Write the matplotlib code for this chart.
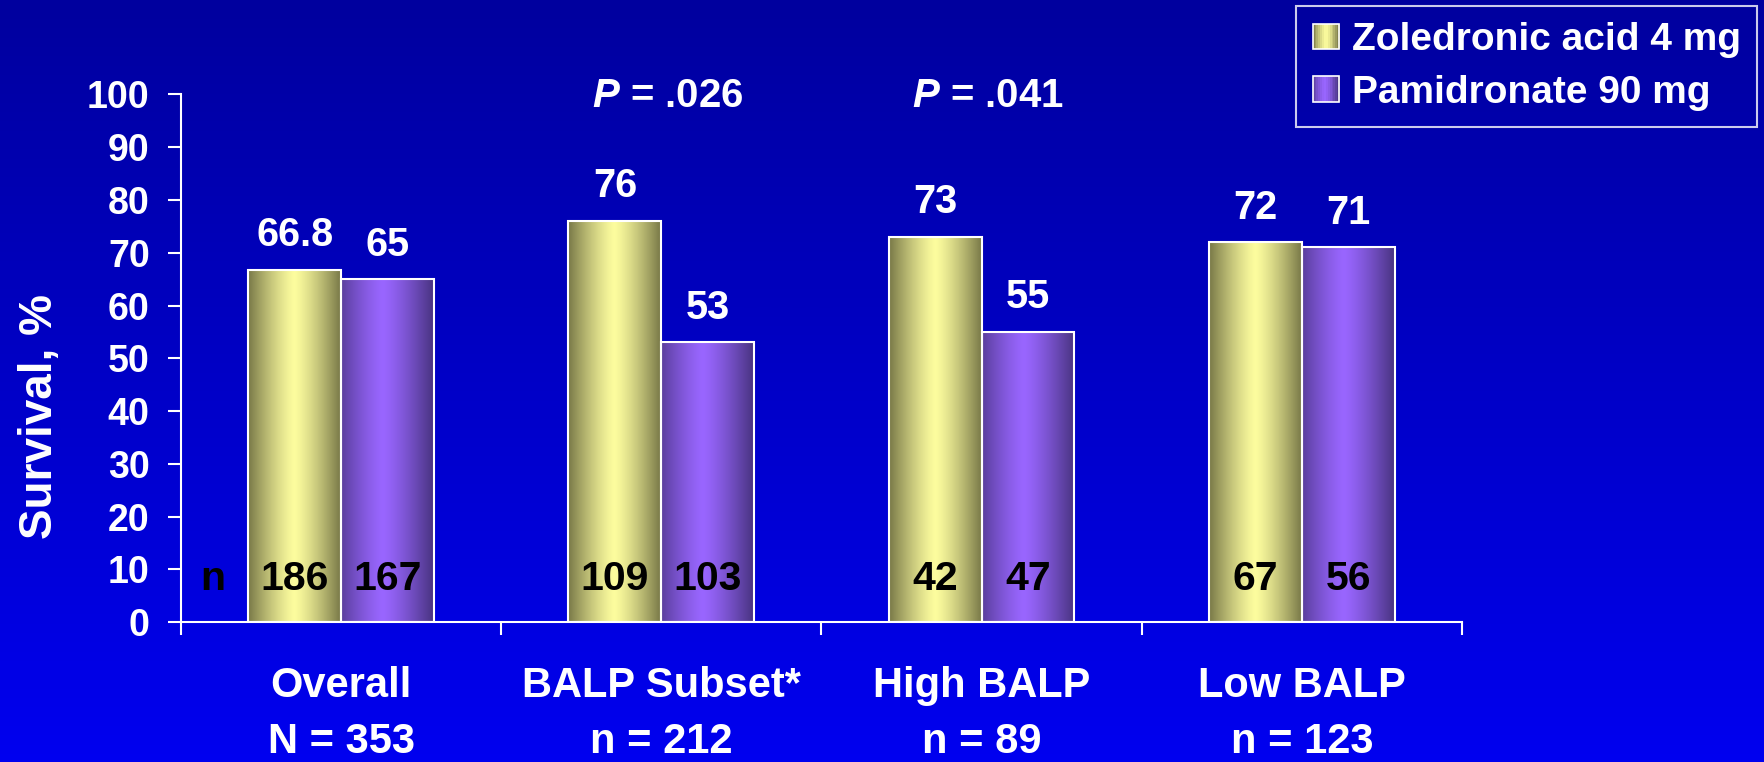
import numpy as np
import matplotlib
matplotlib.use("Agg")
import matplotlib.pyplot as plt
from matplotlib.patches import Rectangle, Patch
from matplotlib.legend_handler import HandlerBase
from matplotlib.ticker import FixedLocator

plt.rcParams['font.family'] = ['Liberation Sans', 'DejaVu Sans']
plt.rcParams['font.weight'] = 'bold'
plt.rcParams['mathtext.fontset'] = 'custom'
plt.rcParams['mathtext.it'] = 'Liberation Sans:italic:bold'
plt.rcParams['mathtext.rm'] = 'Liberation Sans:bold'

# --- data ---
groups = ["Overall", "BALP Subset*", "High BALP", "Low BALP"]
group_n = ["N = 353", "n = 212", "n = 89", "n = 123"]
zol = [66.8, 76, 73, 72]
pam = [65, 53, 55, 71]
zol_n = [186, 109, 42, 67]
pam_n = [167, 103, 47, 56]
pvals = {1: ".026", 2: ".041"}
series = ["Zoledronic acid 4 mg", "Pamidronate 90 mg"]

# colours: (edge shade, centre highlight)
YEL = ((0.47, 0.47, 0.28), (0.99, 0.99, 0.62))
PUR = ((0.28, 0.20, 0.50), (0.60, 0.40, 1.00))


def shade(cols, t, c=0.5):
    # cylinder-like horizontal shading, bright near c, dark at edges
    d = np.abs(t - c) / max(c, 1 - c)
    w = np.clip(1 - d ** 1.3, 0, 1)[..., None]
    lo, hi = np.array(cols[0]), np.array(cols[1])
    return lo + (hi - lo) * w


def grad_bar(ax, x, h, width, cols, c=0.5):
    x0 = x - width / 2
    rect = Rectangle((x0, 0), width, h, fc="none", ec="white", lw=1.5, zorder=3)
    ax.add_patch(rect)
    t = np.linspace(0, 1, 200)
    img = shade(cols, t, c)[None, :, :]
    im = ax.imshow(img, extent=[x0, x0 + width, 0, h], aspect="auto",
                   interpolation="bilinear", zorder=2)
    im.set_clip_path(rect)


class GradHandler(HandlerBase):
    def __init__(self, cols, c=0.5):
        super().__init__()
        self.cols, self.c = cols, c

    def create_artists(self, legend, orig_handle, xdescent, ydescent,
                       width, height, fontsize, trans):
        arts = []
        n = 14
        for i in range(n):
            col = shade(self.cols, np.array((i + 0.5) / n), self.c)
            arts.append(Rectangle((-xdescent + i * width / n, -ydescent), width / n + 0.3,
                                  height, fc=col, ec="none", transform=trans))
        arts.append(Rectangle((-xdescent, -ydescent), width, height, fc="none",
                              ec="white", lw=1.2, transform=trans))
        return arts


fig = plt.figure(figsize=(17.64, 7.62), dpi=100)

# background gradient
bg = fig.add_axes([0, 0, 1, 1], zorder=-10)
vg = np.linspace(0, 1, 256)[:, None, None]
top, bot = np.array([0, 0, 0.62]), np.array([0, 0, 0.94])
bg.imshow(top + (bot - top) * vg, extent=[0, 1, 0, 1], aspect="auto", interpolation="bilinear")
bg.axis("off")

ax = fig.add_axes([0.1026, 0.1837, 0.7262, 0.6923])
ax.set_facecolor("none")

x = np.arange(len(groups))
bw = 0.29
for i in x:
    grad_bar(ax, i - bw / 2, zol[i], bw, YEL, 0.5)
    grad_bar(ax, i + bw / 2, pam[i], bw, PUR, 0.45)
    ax.annotate(f"{zol[i]:g}", (i - bw / 2, zol[i]), xytext=(0, 17), textcoords="offset points",
                ha="center", va="baseline", color="white", fontsize=28.5, fontweight="bold")
    ax.annotate(f"{pam[i]:g}", (i + bw / 2, pam[i]), xytext=(0, 17), textcoords="offset points",
                ha="center", va="baseline", color="white", fontsize=28.5, fontweight="bold")
    ax.text(i - bw / 2, 8.1, str(zol_n[i]), ha="center", va="center", color="black",
            fontsize=29.5, fontweight="bold", zorder=4)
    ax.text(i + bw / 2, 8.1, str(pam_n[i]), ha="center", va="center", color="black",
            fontsize=29.5, fontweight="bold", zorder=4)

ax.text(-0.4, 8.1, "n", ha="center", va="center", color="black", fontsize=29.5, fontweight="bold")

for i, p in pvals.items():
    ax.text(i + 0.02, 99.8, r"$\mathit{P}$" + f" = {p}", ha="center", va="center",
            color="white", fontsize=29, fontweight="bold", clip_on=False)

ax.set_xlim(-0.5, 3.5)
ax.set_ylim(0, 100)
ax.set_yticks(np.arange(0, 101, 10))
ax.set_xticks(x)
ax.set_xticklabels([f"{g}\n{n}" for g, n in zip(groups, group_n)], linespacing=1.5)
ax.xaxis.set_minor_locator(FixedLocator(np.arange(-0.5, 3.6, 1)))
ax.tick_params(axis="x", which="major", length=0, pad=32, labelsize=30, labelcolor="white")
ax.tick_params(axis="x", which="minor", length=9.5, width=1.5, color="white", direction="out")
ax.tick_params(axis="y", length=9.5, width=1.5, color="white", pad=13, labelsize=27,
               labelcolor="white")
for s in ("top", "right"):
    ax.spines[s].set_visible(False)
for s in ("left", "bottom"):
    ax.spines[s].set_color("white")
    ax.spines[s].set_linewidth(1.5)

ax.set_ylabel("Survival, %", color="white", fontsize=33, fontweight="bold")
ax.yaxis.set_label_coords(-0.093, 0.389)

proxies = [Patch(label=series[0]), Patch(label=series[1])]
leg = fig.legend(handles=proxies, loc="upper right", bbox_to_anchor=(0.996, 0.992),
                 handler_map={proxies[0]: GradHandler(YEL, 0.5), proxies[1]: GradHandler(PUR, 0.45)},
                 fontsize=28, frameon=True, fancybox=False, borderaxespad=0,
                 handlelength=0.68, handleheight=0.62, handletextpad=0.32,
                 labelspacing=0.42, borderpad=0.42)
leg.get_frame().set_facecolor("none")
leg.get_frame().set_edgecolor("white")
leg.get_frame().set_linewidth(1.5)
for t in leg.get_texts():
    t.set_color("white")
    t.set_fontweight("bold")

fig.savefig("out.png", dpi=100)
